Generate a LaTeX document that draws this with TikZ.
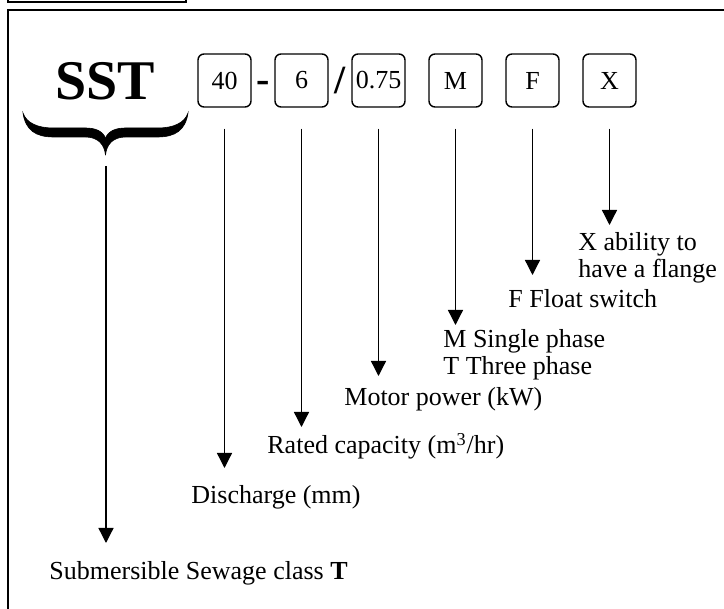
\documentclass[tikz,border=0pt]{standalone}
\usepackage{fontspec}
\setmainfont{Liberation Serif}
\usetikzlibrary{arrows.meta, positioning, calc}

\begin{document}
\begin{tikzpicture}[
  x=0.5pt, y=-0.5pt,
  >={Triangle[length=7.5pt,width=7.5pt]},
  code/.style={draw, line width=0.7pt, rounded corners=3pt, minimum width=26.5pt, minimum height=26.5pt, inner sep=0pt, font=\fontsize{13}{13}\selectfont},
  sep/.style={inner sep=0pt, font=\fontsize{20}{20}\selectfont\bfseries},
  arr/.style={->, line width=0.65pt},
  lbl/.style={anchor=base west, inner sep=0pt, font=\fontsize{13}{13.25}\selectfont}
  ]
  \useasboundingbox (0,0) rectangle (724,609);
  \clip (0,0) rectangle (724,609);
  % frames
  \draw[line width=0.8pt] (8,-20) rectangle (186,2);
  \draw[line width=0.8pt] (8,10) rectangle (760,640);
  % type code
  \node[anchor=base, inner sep=0pt, font=\fontsize{28}{28}\selectfont\bfseries] (sst) at (105,100) {SST};
  \node[code] (b40) at (224.5,80.5) {40};
  \node[code, right=11.3pt of b40] (b6) {6};
  \node[code, right=11.3pt of b6] (b075) {0.75};
  \node[code, right=11.3pt of b075] (bM) {M};
  \node[code, right=11.3pt of bM] (bF) {F};
  \node[code, right=11.3pt of bF] (bX) {X};
  \node[sep] (dash) at ($(b40.east)!0.5!(b6.west)+(0,6)$) {-};
  \node[sep] (slash) at ($(b6.east)!0.5!(b075.west)$) {/};
  % brace under SST
  \coordinate (brc) at (105.5,113);
  \foreach \s in {1,-1}
    \filldraw[line width=0.3pt, shift={(brc)}, xscale=\s]
      (-82.5,0) .. controls (-80,17) and (-70,24) .. (-52,24) -- (-20,24)
      .. controls (-7,24) and (-1,32) .. (0,42) -- (0,25)
      .. controls (-3,18) and (-10,15) .. (-20,15) -- (-52,15)
      .. controls (-68,15) and (-79,10) .. (-82.5,0) -- cycle;
  \coordinate (btip) at (106,155);
  \coordinate (tsst) at (106,543);
  % arrows
  \draw[arr, shorten <=5.5pt] (btip) -- (tsst);
  \foreach \b/\y in {b40/468, b6/427, b075/376, bM/325, bF/275, bX/225}
    \draw[arr, shorten <=10.5pt] (\b.south) -- (\b.south |- 0,\y);
  % labels
  \node[lbl] (lsst) at (49,580) {Submersible Sewage class \textbf{T}};
  \node[lbl] (ldis) at (191,504) {Discharge (mm)};
  \node[lbl] (lcap) at (267,454) {Rated capacity (m\textsuperscript{3}/hr)};
  \node[lbl] (lpow) at (344,406) {Motor power (kW)};
  \node[lbl] (lpha) at (443,348) {\begin{tabular}[t]{@{}l@{}}M Single phase\\T Three phase\end{tabular}};
  \node[lbl] (lflo) at (508,308) {F Float switch};
  \node[lbl] (lfla) at (578,251) {\begin{tabular}[t]{@{}l@{}}X ability to\\have a flange\end{tabular}};
\end{tikzpicture}
\end{document}
